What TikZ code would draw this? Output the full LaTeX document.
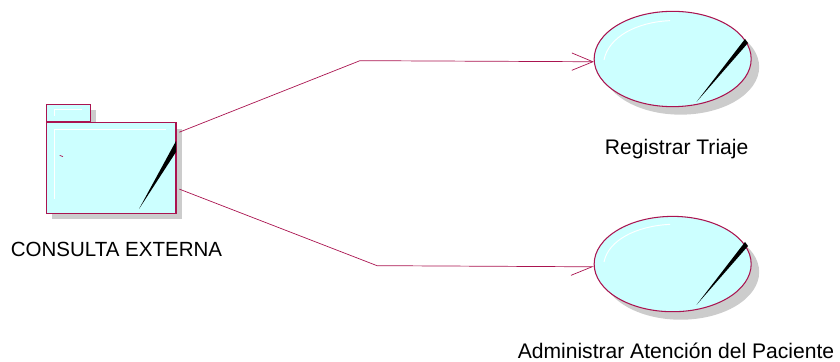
\documentclass[tikz,border=0pt]{standalone}
\usepackage{fontspec}
\setmainfont{Liberation Sans}
\usepackage{xcolor}
\usetikzlibrary{arrows.meta,shapes.geometric,positioning,shadows}
\definecolor{rosecrimson}{RGB}{170,20,80}
\definecolor{rosecyan}{RGB}{204,255,255}
\definecolor{roseshade}{RGB}{204,204,204}
\tikzstyle{pkgbox} = [rectangle, inner sep=0pt, draw=rosecrimson, fill=rosecyan, line width=0.9pt, drop shadow={shadow xshift=0.18cm, shadow yshift=-0.18cm, fill=roseshade, opacity=1}]
\tikzstyle{usecase} = [ellipse, inner sep=0pt, minimum width=4.71cm, minimum height=2.86cm, draw=rosecrimson, fill=rosecyan, line width=0.9pt, drop shadow={shadow xshift=0.24cm, shadow yshift=-0.24cm, fill=roseshade, opacity=1}]
\tikzstyle{caption} = [font=\fontsize{18}{22}\selectfont, text=black, inner sep=0pt]
\tikzstyle{link} = [line width=0.6pt, color=rosecrimson]
\tikzstyle{sheen} = [white, line width=0.8pt]
\begin{document}
\begin{tikzpicture}
\useasboundingbox (0,0) rectangle (25.2,10.86);
% Package
\node[pkgbox, minimum width=1.32cm, minimum height=0.52cm] (tab) at (2.05,7.47) {};
\node[pkgbox, minimum width=3.89cm, minimum height=2.72cm, below right=0cm and 0cm of tab.south west] (body) {};
\node[caption, font=\fontsize{17.5}{21}\selectfont, below=0.83cm of body, xshift=0.16cm] (pkglabel) {CONSULTA EXTERNA};

% Use cases
\node[usecase] (caseA) at (20.18,9.09) {};
\node[usecase, below=3.26cm of caseA] (caseB) {};
\node[caption, below=0.95cm of caseA, xshift=0.12cm] (labelA) {Registrar Triaje};
\node[caption, below=0.9cm of caseB, xshift=0.1cm] (labelB) {Administrar Atención del Paciente};

% Highlights and slivers
\draw[sheen] (1.62,4.89) -- (1.62,6.99) -- (4.98,6.99);
\draw[sheen] (1.62,7.38) -- (1.62,7.58) -- (2.45,7.58);
\draw[link] (1.79,6.20) -- (1.89,6.16);
\fill[black] (4.17,4.59) -- (5.28,6.63) -- (5.28,6.30) -- cycle;
\draw[sheen] (18.12,9.06) .. controls (18.25,9.75) and (19.1,10.2) .. (20.10,10.24);
\fill[black] (20.90,7.81) -- (22.35,9.69) -- (22.44,9.57) -- cycle;
\draw[sheen] (18.12,3.00) .. controls (18.25,3.66) and (19.1,4.08) .. (20.10,4.13);
\fill[black] (20.90,1.72) -- (22.35,3.60) -- (22.44,3.48) -- cycle;

% Connectors
\coordinate (bendA) at (10.8,9.04);
\coordinate (bendB) at (11.31,2.89);
\draw[link, shorten <=0.09cm, -{Straight Barb[length=0.63cm,width=0.52cm]}] (body.28) -- (bendA) -- (caseA.182);
\draw[link, shorten <=0.09cm, -{Straight Barb[harpoon,swap,length=0.63cm,width=0.52cm]}] (body.343) -- (bendB) -- (caseB.182);
\end{tikzpicture}
\end{document}
